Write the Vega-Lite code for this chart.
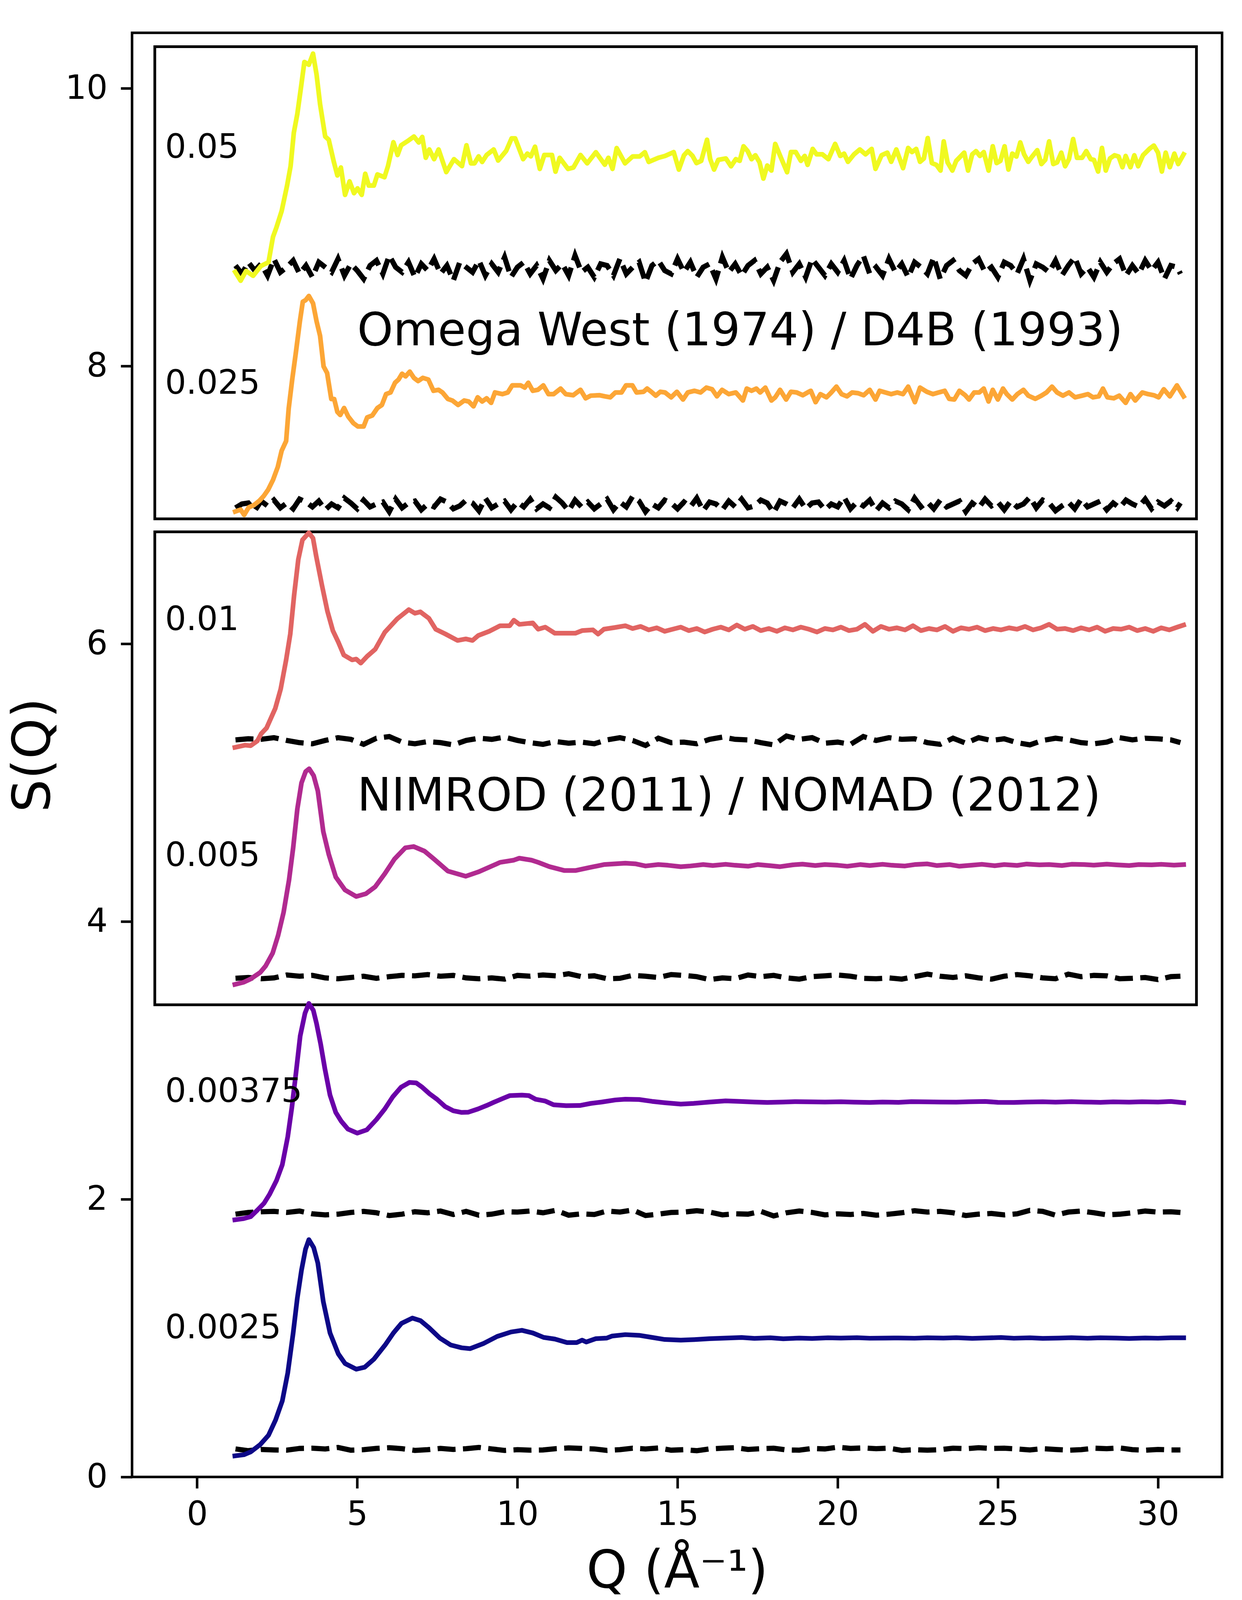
{
  "$schema": "https://vega.github.io/schema/vega-lite/v6.json",
  "description": "S(Q) curves at six concentrations, offset vertically, with dashed noise baselines.",
  "width": 2790,
  "height": 3697,
  "padding": {"left": 338, "top": 84, "right": 51, "bottom": 350},
  "autosize": {"type": "none"},
  "background": "white",
  "config": {
    "view": {"stroke": "black", "strokeWidth": 6.5},
    "font": "DejaVu Sans",
    "axis": {
      "domain": false,
      "grid": false,
      "ticks": true,
      "tickColor": "black",
      "tickWidth": 6.5,
      "tickSize": 29,
      "labelFont": "DejaVu Sans",
      "labelFontSize": 85,
      "labelColor": "black",
      "titleFont": "DejaVu Sans",
      "titleFontSize": 133,
      "titleFontWeight": "normal",
      "titleColor": "black"
    }
  },
  "datasets": {
    "boxes": [
      {"q": -1.32, "q2": 31.2, "v": 6.9, "v2": 10.3},
      {"q": -1.32, "q2": 31.2, "v": 3.4, "v2": 6.806}
    ],
    "labels": [
      {"q": -1.0, "v": 9.5, "t": "0.05"},
      {"q": -1.0, "v": 7.8, "t": "0.025"},
      {"q": -1.0, "v": 6.1, "t": "0.01"},
      {"q": -1.0, "v": 4.4, "t": "0.005"},
      {"q": -1.0, "v": 2.7, "t": "0.00375"},
      {"q": -1.0, "v": 1.0, "t": "0.0025"}
    ],
    "titles": [
      {"q": 5.0, "v": 8.15, "t": "Omega West (1974) / D4B (1993)"},
      {"q": 5.0, "v": 4.8, "t": "NIMROD (2011) / NOMAD (2012)"}
    ],
    "dashTop": [
      {"q":1.2,"a":8.724,"b":6.979},{"q":1.4,"a":8.664,"b":7.007},{"q":1.6,"a":8.748,"b":7.014},{"q":1.8,"a":8.688,"b":6.958},
      {"q":2.0,"a":8.736,"b":7.028},{"q":2.2,"a":8.652,"b":6.993},{"q":2.4,"a":8.772,"b":7.035},{"q":2.6,"a":8.676,"b":6.979},
      {"q":2.8,"a":8.712,"b":7.014},{"q":3.0,"a":8.76,"b":6.972},{"q":3.2,"a":8.664,"b":7.042},{"q":3.4,"a":8.724,"b":7.021},
      {"q":3.6,"a":8.64,"b":6.986},{"q":3.8,"a":8.748,"b":7.028},{"q":4.0,"a":8.712,"b":6.965},{"q":4.2,"a":8.676,"b":7.007},
      {"q":4.4,"a":8.772,"b":6.979},{"q":4.6,"a":8.652,"b":7.049},{"q":4.8,"a":8.736,"b":7.014},{"q":5.0,"a":8.688,"b":6.972},
      {"q":5.2,"a":8.628,"b":7.035},{"q":5.4,"a":8.724,"b":6.986},{"q":5.6,"a":8.76,"b":7.007},{"q":5.8,"a":8.664,"b":7.021},
      {"q":6.0,"a":8.796,"b":6.951},{"q":6.2,"a":8.712,"b":7.042},{"q":6.4,"a":8.676,"b":6.979},{"q":6.6,"a":8.748,"b":7.014},
      {"q":6.8,"a":8.64,"b":7.028},{"q":7.0,"a":8.736,"b":6.965},{"q":7.2,"a":8.688,"b":7.007},{"q":7.4,"a":8.772,"b":6.986},
      {"q":7.6,"a":8.664,"b":7.042},{"q":7.8,"a":8.724,"b":7.021},{"q":8.0,"a":8.616,"b":6.972},{"q":8.2,"a":8.748,"b":6.993},
      {"q":8.4,"a":8.712,"b":7.035},{"q":8.6,"a":8.676,"b":7.014},{"q":8.8,"a":8.76,"b":6.958},{"q":9.0,"a":8.652,"b":7.049},
      {"q":9.2,"a":8.736,"b":6.979},{"q":9.4,"a":8.676,"b":7.007},{"q":9.6,"a":8.784,"b":7.028},{"q":9.8,"a":8.64,"b":6.965},
      {"q":10.0,"a":8.712,"b":7.021},{"q":10.2,"a":8.748,"b":6.986},{"q":10.4,"a":8.664,"b":7.042},{"q":10.6,"a":8.724,"b":6.972},
      {"q":10.8,"a":8.628,"b":7.007},{"q":11.0,"a":8.76,"b":6.979},{"q":11.2,"a":8.688,"b":7.056},{"q":11.4,"a":8.736,"b":7.014},
      {"q":11.6,"a":8.652,"b":6.958},{"q":11.8,"a":8.796,"b":7.035},{"q":12.0,"a":8.676,"b":6.986},{"q":12.2,"a":8.712,"b":7.021},
      {"q":12.4,"a":8.64,"b":6.972},{"q":12.6,"a":8.736,"b":7.007},{"q":12.8,"a":8.724,"b":7.042},{"q":13.0,"a":8.652,"b":6.965},
      {"q":13.2,"a":8.772,"b":7.021},{"q":13.4,"a":8.664,"b":6.986},{"q":13.6,"a":8.712,"b":7.063},{"q":13.8,"a":8.748,"b":7.028},
      {"q":14.0,"a":8.604,"b":6.951},{"q":14.2,"a":8.724,"b":7.007},{"q":14.4,"a":8.76,"b":6.979},{"q":14.6,"a":8.688,"b":7.035},
      {"q":14.8,"a":8.664,"b":7.014},{"q":15.0,"a":8.772,"b":6.972},{"q":15.2,"a":8.676,"b":7.021},{"q":15.4,"a":8.748,"b":6.986},
      {"q":15.6,"a":8.64,"b":7.049},{"q":15.8,"a":8.712,"b":6.958},{"q":16.0,"a":8.736,"b":7.021},{"q":16.2,"a":8.628,"b":7.007},
      {"q":16.4,"a":8.784,"b":6.965},{"q":16.6,"a":8.676,"b":7.028},{"q":16.8,"a":8.736,"b":6.986},{"q":17.0,"a":8.652,"b":7.042},
      {"q":17.2,"a":8.724,"b":6.979},{"q":17.4,"a":8.76,"b":6.993},{"q":17.6,"a":8.664,"b":7.035},{"q":17.8,"a":8.712,"b":7.014},
      {"q":18.0,"a":8.616,"b":6.944},{"q":18.2,"a":8.748,"b":7.028},{"q":18.4,"a":8.808,"b":7.007},{"q":18.6,"a":8.676,"b":6.979},
      {"q":18.8,"a":8.736,"b":7.042},{"q":19.0,"a":8.64,"b":6.972},{"q":19.2,"a":8.772,"b":7.014},{"q":19.4,"a":8.712,"b":7.021},
      {"q":19.6,"a":8.652,"b":6.965},{"q":19.8,"a":8.736,"b":7.007},{"q":20.0,"a":8.676,"b":6.986},{"q":20.2,"a":8.76,"b":7.056},
      {"q":20.4,"a":8.628,"b":6.972},{"q":20.6,"a":8.724,"b":7.021},{"q":20.8,"a":8.796,"b":6.993},{"q":21.0,"a":8.664,"b":7.035},
      {"q":21.2,"a":8.712,"b":6.958},{"q":21.4,"a":8.652,"b":7.014},{"q":21.6,"a":8.772,"b":6.979},{"q":21.8,"a":8.676,"b":7.028},
      {"q":22.0,"a":8.736,"b":7.007},{"q":22.2,"a":8.64,"b":6.965},{"q":22.4,"a":8.748,"b":7.049},{"q":22.6,"a":8.712,"b":6.986},
      {"q":22.8,"a":8.664,"b":7.021},{"q":23.0,"a":8.784,"b":6.972},{"q":23.2,"a":8.628,"b":7.035},{"q":23.4,"a":8.724,"b":6.986},
      {"q":23.6,"a":8.76,"b":7.007},{"q":23.8,"a":8.688,"b":7.028},{"q":24.0,"a":8.652,"b":6.951},{"q":24.2,"a":8.736,"b":7.014},
      {"q":24.4,"a":8.772,"b":6.979},{"q":24.6,"a":8.676,"b":7.042},{"q":24.8,"a":8.712,"b":6.993},{"q":25.0,"a":8.64,"b":7.021},
      {"q":25.2,"a":8.748,"b":6.965},{"q":25.4,"a":8.724,"b":7.028},{"q":25.6,"a":8.664,"b":6.986},{"q":25.8,"a":8.772,"b":7.007},
      {"q":26.0,"a":8.616,"b":7.056},{"q":26.2,"a":8.736,"b":6.979},{"q":26.4,"a":8.712,"b":7.035},{"q":26.6,"a":8.676,"b":7.014},
      {"q":26.8,"a":8.76,"b":6.958},{"q":27.0,"a":8.652,"b":6.993},{"q":27.2,"a":8.724,"b":7.021},{"q":27.4,"a":8.784,"b":6.972},
      {"q":27.6,"a":8.664,"b":7.042},{"q":27.8,"a":8.712,"b":6.986},{"q":28.0,"a":8.64,"b":7.007},{"q":28.2,"a":8.748,"b":7.028},
      {"q":28.4,"a":8.676,"b":6.965},{"q":28.6,"a":8.736,"b":7.014},{"q":28.8,"a":8.772,"b":6.979},{"q":29.0,"a":8.652,"b":7.035},
      {"q":29.2,"a":8.724,"b":7.007},{"q":29.4,"a":8.664,"b":6.986},{"q":29.6,"a":8.76,"b":7.042},{"q":29.8,"a":8.688,"b":6.972},
      {"q":30.0,"a":8.748,"b":7.021},{"q":30.2,"a":8.628,"b":6.993},{"q":30.4,"a":8.724,"b":7.028},{"q":30.6,"a":8.712,"b":6.979},
      {"q":30.7,"a":8.664,"b":7.014}
    ],
    "dashLow": [
      {"q":1.2,"c":5.308,"e":3.591,"f":1.8925,"g":0.2018},{"q":1.6,"c":5.316,"e":3.597,"f":1.905,"g":0.1892},
      {"q":2.0,"c":5.312,"e":3.588,"f":1.91,"g":0.1982},{"q":2.4,"c":5.324,"e":3.594,"f":1.9125,"g":0.1946},
      {"q":2.8,"c":5.304,"e":3.615,"f":1.905,"g":0.1928},{"q":3.2,"c":5.288,"e":3.606,"f":1.915,"g":0.2054},
      {"q":3.6,"c":5.28,"e":3.612,"f":1.895,"g":0.2072},{"q":4.0,"c":5.304,"e":3.594,"f":1.8875,"g":0.2018},
      {"q":4.4,"c":5.324,"e":3.588,"f":1.8925,"g":0.2126},{"q":4.8,"c":5.312,"e":3.597,"f":1.905,"g":0.1928},
      {"q":5.2,"c":5.276,"e":3.606,"f":1.9125,"g":0.1964},{"q":5.6,"c":5.32,"e":3.591,"f":1.9025,"g":0.2054},
      {"q":6.0,"c":5.332,"e":3.603,"f":1.8825,"g":0.2108},{"q":6.4,"c":5.292,"e":3.612,"f":1.8925,"g":0.2036},
      {"q":6.8,"c":5.28,"e":3.609,"f":1.91,"g":0.191},{"q":7.2,"c":5.296,"e":3.618,"f":1.9025,"g":0.1964},
      {"q":7.6,"c":5.288,"e":3.606,"f":1.915,"g":0.2054},{"q":8.0,"c":5.272,"e":3.612,"f":1.89,"g":0.1982},
      {"q":8.4,"c":5.304,"e":3.594,"f":1.9125,"g":0.2036},{"q":8.8,"c":5.32,"e":3.588,"f":1.885,"g":0.2126},
      {"q":9.2,"c":5.312,"e":3.594,"f":1.8925,"g":0.2018},{"q":9.6,"c":5.328,"e":3.585,"f":1.91,"g":0.191},
      {"q":10.0,"c":5.304,"e":3.612,"f":1.9075,"g":0.1964},{"q":10.4,"c":5.288,"e":3.606,"f":1.915,"g":0.1928},
      {"q":10.8,"c":5.276,"e":3.615,"f":1.9025,"g":0.1946},{"q":11.2,"c":5.296,"e":3.609,"f":1.92,"g":0.2036},
      {"q":11.6,"c":5.284,"e":3.624,"f":1.885,"g":0.209},{"q":12.0,"c":5.292,"e":3.603,"f":1.895,"g":0.2054},
      {"q":12.4,"c":5.28,"e":3.609,"f":1.89,"g":0.2018},{"q":12.8,"c":5.308,"e":3.588,"f":1.915,"g":0.191},
      {"q":13.2,"c":5.324,"e":3.591,"f":1.9075,"g":0.1964},{"q":13.6,"c":5.304,"e":3.612,"f":1.9225,"g":0.2072},
      {"q":14.0,"c":5.268,"e":3.606,"f":1.8825,"g":0.2018},{"q":14.4,"c":5.32,"e":3.597,"f":1.8925,"g":0.209},
      {"q":14.8,"c":5.288,"e":3.618,"f":1.905,"g":0.1928},{"q":15.2,"c":5.292,"e":3.612,"f":1.9075,"g":0.1964},
      {"q":15.6,"c":5.28,"e":3.603,"f":1.9175,"g":0.1892},{"q":16.0,"c":5.312,"e":3.582,"f":1.9075,"g":0.2018},
      {"q":16.4,"c":5.328,"e":3.594,"f":1.8875,"g":0.2072},{"q":16.8,"c":5.312,"e":3.588,"f":1.895,"g":0.2108},
      {"q":17.2,"c":5.308,"e":3.615,"f":1.8925,"g":0.1982},{"q":17.6,"c":5.288,"e":3.603,"f":1.9125,"g":0.2036},
      {"q":18.0,"c":5.272,"e":3.612,"f":1.88,"g":0.2072},{"q":18.4,"c":5.336,"e":3.594,"f":1.9025,"g":0.1946},
      {"q":18.8,"c":5.312,"e":3.585,"f":1.915,"g":0.1928},{"q":19.2,"c":5.324,"e":3.603,"f":1.905,"g":0.2054},
      {"q":19.6,"c":5.284,"e":3.609,"f":1.8875,"g":0.2018},{"q":20.0,"c":5.292,"e":3.615,"f":1.895,"g":0.2144},
      {"q":20.4,"c":5.276,"e":3.606,"f":1.89,"g":0.2054},{"q":20.8,"c":5.332,"e":3.591,"f":1.8975,"g":0.209},
      {"q":21.2,"c":5.304,"e":3.588,"f":1.885,"g":0.2036},{"q":21.6,"c":5.324,"e":3.594,"f":1.8925,"g":0.2072},
      {"q":22.0,"c":5.312,"e":3.585,"f":1.9025,"g":0.191},{"q":22.4,"c":5.316,"e":3.603,"f":1.9175,"g":0.1964},
      {"q":22.8,"c":5.288,"e":3.621,"f":1.9075,"g":0.1928},{"q":23.2,"c":5.276,"e":3.606,"f":1.9125,"g":0.1964},
      {"q":23.6,"c":5.32,"e":3.597,"f":1.9025,"g":0.2072},{"q":24.0,"c":5.284,"e":3.609,"f":1.8825,"g":0.2036},
      {"q":24.4,"c":5.324,"e":3.594,"f":1.8925,"g":0.2108},{"q":24.8,"c":5.304,"e":3.585,"f":1.8975,"g":0.2054},
      {"q":25.2,"c":5.316,"e":3.606,"f":1.8875,"g":0.2072},{"q":25.6,"c":5.288,"e":3.618,"f":1.895,"g":0.2018},
      {"q":26.0,"c":5.272,"e":3.609,"f":1.92,"g":0.1946},{"q":26.4,"c":5.304,"e":3.594,"f":1.9125,"g":0.2036},
      {"q":26.8,"c":5.32,"e":3.588,"f":1.885,"g":0.1982},{"q":27.2,"c":5.308,"e":3.621,"f":1.9075,"g":0.1928},
      {"q":27.6,"c":5.288,"e":3.603,"f":1.915,"g":0.1964},{"q":28.0,"c":5.28,"e":3.612,"f":1.9025,"g":0.2072},
      {"q":28.4,"c":5.292,"e":3.609,"f":1.8875,"g":0.2036},{"q":28.8,"c":5.324,"e":3.588,"f":1.8925,"g":0.209},
      {"q":29.2,"c":5.308,"e":3.591,"f":1.9025,"g":0.1964},{"q":29.6,"c":5.32,"e":3.597,"f":1.915,"g":0.1928},
      {"q":30.0,"c":5.316,"e":3.582,"f":1.9075,"g":0.1982},{"q":30.4,"c":5.308,"e":3.603,"f":1.91,"g":0.1946},
      {"q":30.7,"c":5.288,"e":3.606,"f":1.905,"g":0.1946}
    ],
    "curves": [
      {"s":"0.0025","q":1.18,"v":0.152},{"s":"0.0025","q":1.46,"v":0.16},{"s":"0.0025","q":1.67,"v":0.18},{"s":"0.0025","q":1.97,"v":0.233},
      {"s":"0.0025","q":2.23,"v":0.3},{"s":"0.0025","q":2.45,"v":0.41},{"s":"0.0025","q":2.66,"v":0.547},{"s":"0.0025","q":2.83,"v":0.748},
      {"s":"0.0025","q":3.0,"v":1.037},{"s":"0.0025","q":3.13,"v":1.289},{"s":"0.0025","q":3.26,"v":1.489},{"s":"0.0025","q":3.385,"v":1.64},
      {"s":"0.0025","q":3.49,"v":1.709},{"s":"0.0025","q":3.64,"v":1.652},{"s":"0.0025","q":3.77,"v":1.54},{"s":"0.0025","q":3.94,"v":1.263},
      {"s":"0.0025","q":4.15,"v":1.037},{"s":"0.0025","q":4.41,"v":0.886},{"s":"0.0025","q":4.62,"v":0.817},{"s":"0.0025","q":4.97,"v":0.776},
      {"s":"0.0025","q":5.23,"v":0.79},{"s":"0.0025","q":5.52,"v":0.848},{"s":"0.0025","q":5.87,"v":0.95},{"s":"0.0025","q":6.13,"v":1.037},
      {"s":"0.0025","q":6.38,"v":1.106},{"s":"0.0025","q":6.72,"v":1.144},{"s":"0.0025","q":6.98,"v":1.125},{"s":"0.0025","q":7.24,"v":1.075},
      {"s":"0.0025","q":7.58,"v":1.0},{"s":"0.0025","q":7.92,"v":0.95},{"s":"0.0025","q":8.26,"v":0.93},{"s":"0.0025","q":8.52,"v":0.924},
      {"s":"0.0025","q":8.95,"v":0.962},{"s":"0.0025","q":9.37,"v":1.012},{"s":"0.0025","q":9.8,"v":1.044},{"s":"0.0025","q":10.14,"v":1.056},
      {"s":"0.0025","q":10.48,"v":1.037},{"s":"0.0025","q":10.82,"v":1.005},{"s":"0.0025","q":11.17,"v":0.993},{"s":"0.0025","q":11.55,"v":0.968},
      {"s":"0.0025","q":11.85,"v":0.968},{"s":"0.0025","q":12.02,"v":0.985},{"s":"0.0025","q":12.15,"v":0.972},{"s":"0.0025","q":12.45,"v":0.996},
      {"s":"0.0025","q":12.79,"v":1.0},{"s":"0.0025","q":12.96,"v":1.015},{"s":"0.0025","q":13.37,"v":1.025},{"s":"0.0025","q":13.8,"v":1.02},
      {"s":"0.0025","q":14.2,"v":1.005},{"s":"0.0025","q":14.6,"v":0.99},{"s":"0.0025","q":15.1,"v":0.985},{"s":"0.0025","q":15.6,"v":0.99},
      {"s":"0.0025","q":16.0,"v":0.996},{"s":"0.0025","q":16.5,"v":1.0},{"s":"0.0025","q":17.0,"v":1.004},{"s":"0.0025","q":17.4,"v":0.998},
      {"s":"0.0025","q":17.9,"v":1.002},{"s":"0.0025","q":18.3,"v":0.995},{"s":"0.0025","q":18.8,"v":1.0},{"s":"0.0025","q":19.2,"v":0.997},
      {"s":"0.0025","q":19.7,"v":1.002},{"s":"0.0025","q":20.1,"v":1.0},{"s":"0.0025","q":20.6,"v":1.003},{"s":"0.0025","q":21.0,"v":0.999},
      {"s":"0.0025","q":21.5,"v":1.0},{"s":"0.0025","q":21.9,"v":1.001},{"s":"0.0025","q":22.4,"v":0.999},{"s":"0.0025","q":22.8,"v":1.002},
      {"s":"0.0025","q":23.3,"v":1.0},{"s":"0.0025","q":23.7,"v":1.003},{"s":"0.0025","q":24.2,"v":0.998},{"s":"0.0025","q":24.6,"v":1.001},
      {"s":"0.0025","q":25.1,"v":1.004},{"s":"0.0025","q":25.5,"v":0.999},{"s":"0.0025","q":26.0,"v":1.002},{"s":"0.0025","q":26.4,"v":0.998},
      {"s":"0.0025","q":26.9,"v":1.0},{"s":"0.0025","q":27.3,"v":1.003},{"s":"0.0025","q":27.8,"v":0.999},{"s":"0.0025","q":28.2,"v":1.002},
      {"s":"0.0025","q":28.7,"v":1.0},{"s":"0.0025","q":29.1,"v":0.997},{"s":"0.0025","q":29.6,"v":1.001},{"s":"0.0025","q":30.0,"v":0.999},
      {"s":"0.0025","q":30.4,"v":1.002},{"s":"0.0025","q":30.8,"v":1.002},

      {"s":"0.00375","q":1.18,"v":1.852},{"s":"0.00375","q":1.46,"v":1.861},{"s":"0.00375","q":1.67,"v":1.874},{"s":"0.00375","q":1.88,"v":1.921},
      {"s":"0.00375","q":2.09,"v":1.971},{"s":"0.00375","q":2.26,"v":2.034},{"s":"0.00375","q":2.48,"v":2.135},{"s":"0.00375","q":2.66,"v":2.248},
      {"s":"0.00375","q":2.83,"v":2.449},{"s":"0.00375","q":2.96,"v":2.662},{"s":"0.00375","q":3.09,"v":2.914},{"s":"0.00375","q":3.22,"v":3.177},
      {"s":"0.00375","q":3.37,"v":3.34},{"s":"0.00375","q":3.49,"v":3.41},{"s":"0.00375","q":3.63,"v":3.36},{"s":"0.00375","q":3.73,"v":3.265},
      {"s":"0.00375","q":3.86,"v":3.115},{"s":"0.00375","q":3.99,"v":2.94},{"s":"0.00375","q":4.15,"v":2.75},{"s":"0.00375","q":4.33,"v":2.625},
      {"s":"0.00375","q":4.5,"v":2.562},{"s":"0.00375","q":4.71,"v":2.505},{"s":"0.00375","q":5.0,"v":2.476},{"s":"0.00375","q":5.3,"v":2.5},
      {"s":"0.00375","q":5.6,"v":2.574},{"s":"0.00375","q":5.86,"v":2.65},{"s":"0.00375","q":6.11,"v":2.738},{"s":"0.00375","q":6.37,"v":2.807},
      {"s":"0.00375","q":6.63,"v":2.841},{"s":"0.00375","q":6.84,"v":2.838},{"s":"0.00375","q":7.01,"v":2.81},{"s":"0.00375","q":7.27,"v":2.757},
      {"s":"0.00375","q":7.49,"v":2.72},{"s":"0.00375","q":7.74,"v":2.668},{"s":"0.00375","q":8.0,"v":2.637},{"s":"0.00375","q":8.26,"v":2.625},
      {"s":"0.00375","q":8.47,"v":2.627},{"s":"0.00375","q":8.77,"v":2.65},{"s":"0.00375","q":9.03,"v":2.674},{"s":"0.00375","q":9.28,"v":2.7},
      {"s":"0.00375","q":9.54,"v":2.725},{"s":"0.00375","q":9.76,"v":2.746},{"s":"0.00375","q":10.14,"v":2.75},{"s":"0.00375","q":10.36,"v":2.746},
      {"s":"0.00375","q":10.57,"v":2.72},{"s":"0.00375","q":10.87,"v":2.707},{"s":"0.00375","q":11.13,"v":2.68},{"s":"0.00375","q":11.52,"v":2.674},
      {"s":"0.00375","q":11.95,"v":2.675},{"s":"0.00375","q":12.29,"v":2.69},{"s":"0.00375","q":12.63,"v":2.7},{"s":"0.00375","q":13.06,"v":2.715},
      {"s":"0.00375","q":13.37,"v":2.72},{"s":"0.00375","q":13.8,"v":2.718},{"s":"0.00375","q":14.2,"v":2.705},{"s":"0.00375","q":14.6,"v":2.695},
      {"s":"0.00375","q":15.1,"v":2.685},{"s":"0.00375","q":15.5,"v":2.69},{"s":"0.00375","q":16.0,"v":2.7},{"s":"0.00375","q":16.5,"v":2.708},
      {"s":"0.00375","q":16.9,"v":2.705},{"s":"0.00375","q":17.4,"v":2.7},{"s":"0.00375","q":17.8,"v":2.697},{"s":"0.00375","q":18.3,"v":2.7},
      {"s":"0.00375","q":18.7,"v":2.703},{"s":"0.00375","q":19.2,"v":2.701},{"s":"0.00375","q":19.6,"v":2.7},{"s":"0.00375","q":20.1,"v":2.702},
      {"s":"0.00375","q":20.5,"v":2.699},{"s":"0.00375","q":21.0,"v":2.697},{"s":"0.00375","q":21.4,"v":2.7},{"s":"0.00375","q":21.9,"v":2.698},
      {"s":"0.00375","q":22.3,"v":2.703},{"s":"0.00375","q":22.8,"v":2.701},{"s":"0.00375","q":23.2,"v":2.7},{"s":"0.00375","q":23.7,"v":2.699},
      {"s":"0.00375","q":24.1,"v":2.702},{"s":"0.00375","q":24.6,"v":2.704},{"s":"0.00375","q":25.0,"v":2.698},{"s":"0.00375","q":25.5,"v":2.697},
      {"s":"0.00375","q":25.9,"v":2.7},{"s":"0.00375","q":26.4,"v":2.702},{"s":"0.00375","q":26.8,"v":2.699},{"s":"0.00375","q":27.3,"v":2.703},
      {"s":"0.00375","q":27.7,"v":2.7},{"s":"0.00375","q":28.2,"v":2.698},{"s":"0.00375","q":28.6,"v":2.701},{"s":"0.00375","q":29.1,"v":2.699},
      {"s":"0.00375","q":29.5,"v":2.702},{"s":"0.00375","q":30.0,"v":2.7},{"s":"0.00375","q":30.4,"v":2.704},{"s":"0.00375","q":30.8,"v":2.695},

      {"s":"0.005","q":1.18,"v":3.547},{"s":"0.005","q":1.46,"v":3.563},{"s":"0.005","q":1.67,"v":3.586},{"s":"0.005","q":1.97,"v":3.633},
      {"s":"0.005","q":2.14,"v":3.68},{"s":"0.005","q":2.36,"v":3.773},{"s":"0.005","q":2.53,"v":3.9},{"s":"0.005","q":2.7,"v":4.065},
      {"s":"0.005","q":2.87,"v":4.298},{"s":"0.005","q":3.0,"v":4.531},{"s":"0.005","q":3.13,"v":4.81},{"s":"0.005","q":3.26,"v":4.998},
      {"s":"0.005","q":3.39,"v":5.08},{"s":"0.005","q":3.5,"v":5.1},{"s":"0.005","q":3.64,"v":5.05},{"s":"0.005","q":3.77,"v":4.94},
      {"s":"0.005","q":3.94,"v":4.648},{"s":"0.005","q":4.11,"v":4.485},{"s":"0.005","q":4.33,"v":4.32},{"s":"0.005","q":4.62,"v":4.227},
      {"s":"0.005","q":4.97,"v":4.18},{"s":"0.005","q":5.27,"v":4.2},{"s":"0.005","q":5.56,"v":4.25},{"s":"0.005","q":5.86,"v":4.344},
      {"s":"0.005","q":6.16,"v":4.449},{"s":"0.005","q":6.5,"v":4.531},{"s":"0.005","q":6.76,"v":4.54},{"s":"0.005","q":7.1,"v":4.507},
      {"s":"0.005","q":7.4,"v":4.449},{"s":"0.005","q":7.83,"v":4.363},{"s":"0.005","q":8.39,"v":4.326},{"s":"0.005","q":8.78,"v":4.357},
      {"s":"0.005","q":9.12,"v":4.391},{"s":"0.005","q":9.46,"v":4.426},{"s":"0.005","q":9.89,"v":4.442},{"s":"0.005","q":10.06,"v":4.456},
      {"s":"0.005","q":10.44,"v":4.442},{"s":"0.005","q":10.65,"v":4.426},{"s":"0.005","q":11.0,"v":4.395},{"s":"0.005","q":11.47,"v":4.367},
      {"s":"0.005","q":11.81,"v":4.367},{"s":"0.005","q":12.28,"v":4.39},{"s":"0.005","q":12.7,"v":4.41},{"s":"0.005","q":13.37,"v":4.42},
      {"s":"0.005","q":13.7,"v":4.415},{"s":"0.005","q":14.0,"v":4.4},{"s":"0.005","q":14.4,"v":4.41},{"s":"0.005","q":14.7,"v":4.405},
      {"s":"0.005","q":15.1,"v":4.395},{"s":"0.005","q":15.4,"v":4.4},{"s":"0.005","q":15.8,"v":4.41},{"s":"0.005","q":16.1,"v":4.403},
      {"s":"0.005","q":16.5,"v":4.412},{"s":"0.005","q":16.8,"v":4.405},{"s":"0.005","q":17.2,"v":4.398},{"s":"0.005","q":17.5,"v":4.41},
      {"s":"0.005","q":17.9,"v":4.402},{"s":"0.005","q":18.2,"v":4.395},{"s":"0.005","q":18.6,"v":4.408},{"s":"0.005","q":18.9,"v":4.413},
      {"s":"0.005","q":19.3,"v":4.403},{"s":"0.005","q":19.6,"v":4.41},{"s":"0.005","q":20.0,"v":4.405},{"s":"0.005","q":20.3,"v":4.398},
      {"s":"0.005","q":20.7,"v":4.41},{"s":"0.005","q":21.0,"v":4.403},{"s":"0.005","q":21.4,"v":4.412},{"s":"0.005","q":21.7,"v":4.405},
      {"s":"0.005","q":22.1,"v":4.4},{"s":"0.005","q":22.4,"v":4.41},{"s":"0.005","q":22.8,"v":4.415},{"s":"0.005","q":23.1,"v":4.403},
      {"s":"0.005","q":23.5,"v":4.41},{"s":"0.005","q":23.8,"v":4.398},{"s":"0.005","q":24.2,"v":4.406},{"s":"0.005","q":24.5,"v":4.412},
      {"s":"0.005","q":24.9,"v":4.402},{"s":"0.005","q":25.2,"v":4.41},{"s":"0.005","q":25.6,"v":4.404},{"s":"0.005","q":25.9,"v":4.414},
      {"s":"0.005","q":26.3,"v":4.408},{"s":"0.005","q":26.6,"v":4.41},{"s":"0.005","q":27.0,"v":4.403},{"s":"0.005","q":27.3,"v":4.412},
      {"s":"0.005","q":27.7,"v":4.41},{"s":"0.005","q":28.0,"v":4.406},{"s":"0.005","q":28.4,"v":4.413},{"s":"0.005","q":28.7,"v":4.408},
      {"s":"0.005","q":29.1,"v":4.403},{"s":"0.005","q":29.4,"v":4.41},{"s":"0.005","q":29.8,"v":4.408},{"s":"0.005","q":30.1,"v":4.412},
      {"s":"0.005","q":30.5,"v":4.406},{"s":"0.005","q":30.8,"v":4.41},

      {"s":"0.01","q":1.18,"v":5.254},{"s":"0.01","q":1.5,"v":5.27},{"s":"0.01","q":1.67,"v":5.266},{"s":"0.01","q":1.88,"v":5.3},
      {"s":"0.01","q":2.0,"v":5.352},{"s":"0.01","q":2.17,"v":5.394},{"s":"0.01","q":2.44,"v":5.534},{"s":"0.01","q":2.61,"v":5.674},
      {"s":"0.01","q":2.78,"v":5.884},{"s":"0.01","q":2.91,"v":6.071},{"s":"0.01","q":3.03,"v":6.351},{"s":"0.01","q":3.16,"v":6.607},
      {"s":"0.01","q":3.29,"v":6.748},{"s":"0.01","q":3.49,"v":6.8},{"s":"0.01","q":3.62,"v":6.76},{"s":"0.01","q":3.72,"v":6.63},
      {"s":"0.01","q":3.9,"v":6.42},{"s":"0.01","q":4.07,"v":6.234},{"s":"0.01","q":4.24,"v":6.094},{"s":"0.01","q":4.41,"v":6.012},
      {"s":"0.01","q":4.58,"v":5.919},{"s":"0.01","q":4.84,"v":5.884},{"s":"0.01","q":4.97,"v":5.89},{"s":"0.01","q":5.11,"v":5.861},
      {"s":"0.01","q":5.31,"v":5.91},{"s":"0.01","q":5.56,"v":5.96},{"s":"0.01","q":5.86,"v":6.083},{"s":"0.01","q":6.25,"v":6.18},
      {"s":"0.01","q":6.61,"v":6.246},{"s":"0.01","q":6.8,"v":6.22},{"s":"0.01","q":6.97,"v":6.23},{"s":"0.01","q":7.24,"v":6.183},
      {"s":"0.01","q":7.45,"v":6.105},{"s":"0.01","q":7.75,"v":6.071},{"s":"0.01","q":8.13,"v":6.024},{"s":"0.01","q":8.39,"v":6.035},
      {"s":"0.01","q":8.6,"v":6.024},{"s":"0.01","q":8.78,"v":6.06},{"s":"0.01","q":9.12,"v":6.09},{"s":"0.01","q":9.46,"v":6.13},
      {"s":"0.01","q":9.76,"v":6.13},{"s":"0.01","q":9.89,"v":6.17},{"s":"0.01","q":10.06,"v":6.14},{"s":"0.01","q":10.48,"v":6.15},
      {"s":"0.01","q":10.65,"v":6.105},{"s":"0.01","q":10.87,"v":6.12},{"s":"0.01","q":11.17,"v":6.076},{"s":"0.01","q":11.42,"v":6.076},
      {"s":"0.01","q":11.81,"v":6.076},{"s":"0.01","q":12.02,"v":6.095},{"s":"0.01","q":12.36,"v":6.1},{"s":"0.01","q":12.52,"v":6.07},
      {"s":"0.01","q":12.7,"v":6.105},{"s":"0.01","q":13.04,"v":6.117},{"s":"0.01","q":13.37,"v":6.13},{"s":"0.01","q":13.6,"v":6.11},
      {"s":"0.01","q":13.85,"v":6.125},{"s":"0.01","q":14.1,"v":6.1},{"s":"0.01","q":14.35,"v":6.115},{"s":"0.01","q":14.6,"v":6.09},
      {"s":"0.01","q":14.85,"v":6.105},{"s":"0.01","q":15.1,"v":6.12},{"s":"0.01","q":15.35,"v":6.095},{"s":"0.01","q":15.6,"v":6.11},
      {"s":"0.01","q":15.85,"v":6.085},{"s":"0.01","q":16.1,"v":6.105},{"s":"0.01","q":16.35,"v":6.12},{"s":"0.01","q":16.6,"v":6.1},
      {"s":"0.01","q":16.85,"v":6.135},{"s":"0.01","q":17.1,"v":6.105},{"s":"0.01","q":17.35,"v":6.125},{"s":"0.01","q":17.6,"v":6.095},
      {"s":"0.01","q":17.85,"v":6.11},{"s":"0.01","q":18.1,"v":6.09},{"s":"0.01","q":18.35,"v":6.115},{"s":"0.01","q":18.6,"v":6.1},
      {"s":"0.01","q":18.85,"v":6.12},{"s":"0.01","q":19.1,"v":6.105},{"s":"0.01","q":19.35,"v":6.085},{"s":"0.01","q":19.6,"v":6.11},
      {"s":"0.01","q":19.85,"v":6.1},{"s":"0.01","q":20.1,"v":6.12},{"s":"0.01","q":20.35,"v":6.095},{"s":"0.01","q":20.6,"v":6.105},
      {"s":"0.01","q":20.85,"v":6.14},{"s":"0.01","q":21.1,"v":6.09},{"s":"0.01","q":21.35,"v":6.125},{"s":"0.01","q":21.6,"v":6.105},
      {"s":"0.01","q":21.85,"v":6.115},{"s":"0.01","q":22.1,"v":6.1},{"s":"0.01","q":22.35,"v":6.13},{"s":"0.01","q":22.6,"v":6.095},
      {"s":"0.01","q":22.85,"v":6.11},{"s":"0.01","q":23.1,"v":6.1},{"s":"0.01","q":23.35,"v":6.125},{"s":"0.01","q":23.6,"v":6.09},
      {"s":"0.01","q":23.85,"v":6.115},{"s":"0.01","q":24.1,"v":6.105},{"s":"0.01","q":24.35,"v":6.12},{"s":"0.01","q":24.6,"v":6.095},
      {"s":"0.01","q":24.85,"v":6.11},{"s":"0.01","q":25.1,"v":6.1},{"s":"0.01","q":25.35,"v":6.115},{"s":"0.01","q":25.6,"v":6.105},
      {"s":"0.01","q":25.85,"v":6.125},{"s":"0.01","q":26.1,"v":6.1},{"s":"0.01","q":26.35,"v":6.115},{"s":"0.01","q":26.6,"v":6.14},
      {"s":"0.01","q":26.85,"v":6.105},{"s":"0.01","q":27.1,"v":6.11},{"s":"0.01","q":27.35,"v":6.095},{"s":"0.01","q":27.6,"v":6.115},
      {"s":"0.01","q":27.85,"v":6.1},{"s":"0.01","q":28.1,"v":6.12},{"s":"0.01","q":28.35,"v":6.09},{"s":"0.01","q":28.6,"v":6.11},
      {"s":"0.01","q":28.85,"v":6.105},{"s":"0.01","q":29.1,"v":6.12},{"s":"0.01","q":29.35,"v":6.095},{"s":"0.01","q":29.6,"v":6.11},
      {"s":"0.01","q":29.85,"v":6.09},{"s":"0.01","q":30.1,"v":6.115},{"s":"0.01","q":30.35,"v":6.1},{"s":"0.01","q":30.6,"v":6.12},
      {"s":"0.01","q":30.8,"v":6.135},

      {"s":"0.025","q":1.19,"v":6.952},{"s":"0.025","q":1.36,"v":6.966},{"s":"0.025","q":1.47,"v":6.928},{"s":"0.025","q":1.61,"v":6.982},
      {"s":"0.025","q":1.77,"v":6.998},{"s":"0.025","q":1.94,"v":7.029},{"s":"0.025","q":2.08,"v":7.064},{"s":"0.025","q":2.22,"v":7.11},
      {"s":"0.025","q":2.37,"v":7.18},{"s":"0.025","q":2.52,"v":7.274},{"s":"0.025","q":2.64,"v":7.39},{"s":"0.025","q":2.78,"v":7.46},
      {"s":"0.025","q":2.86,"v":7.694},{"s":"0.025","q":2.97,"v":7.903},{"s":"0.025","q":3.08,"v":8.09},{"s":"0.025","q":3.21,"v":8.323},
      {"s":"0.025","q":3.3,"v":8.463},{"s":"0.025","q":3.39,"v":8.475},{"s":"0.025","q":3.49,"v":8.505},{"s":"0.025","q":3.62,"v":8.452},
      {"s":"0.025","q":3.73,"v":8.323},{"s":"0.025","q":3.84,"v":8.218},{"s":"0.025","q":3.95,"v":7.997},{"s":"0.025","q":4.06,"v":7.95},
      {"s":"0.025","q":4.19,"v":7.763},{"s":"0.025","q":4.28,"v":7.763},{"s":"0.025","q":4.38,"v":7.67},{"s":"0.025","q":4.47,"v":7.648},
      {"s":"0.025","q":4.59,"v":7.698},{"s":"0.025","q":4.72,"v":7.636},{"s":"0.025","q":4.88,"v":7.589},{"s":"0.025","q":5.02,"v":7.565},
      {"s":"0.025","q":5.2,"v":7.565},{"s":"0.025","q":5.31,"v":7.63},{"s":"0.025","q":5.47,"v":7.644},{"s":"0.025","q":5.63,"v":7.698},
      {"s":"0.025","q":5.77,"v":7.72},{"s":"0.025","q":5.9,"v":7.798},{"s":"0.025","q":6.04,"v":7.81},{"s":"0.025","q":6.18,"v":7.88},
      {"s":"0.025","q":6.29,"v":7.903},{"s":"0.025","q":6.4,"v":7.945},{"s":"0.025","q":6.51,"v":7.926},{"s":"0.025","q":6.64,"v":7.96},
      {"s":"0.025","q":6.77,"v":7.915},{"s":"0.025","q":6.9,"v":7.892},{"s":"0.025","q":7.05,"v":7.915},{"s":"0.025","q":7.22,"v":7.903},
      {"s":"0.025","q":7.38,"v":7.822},{"s":"0.025","q":7.54,"v":7.829},{"s":"0.025","q":7.66,"v":7.81},{"s":"0.025","q":7.83,"v":7.763},
      {"s":"0.025","q":7.97,"v":7.752},{"s":"0.025","q":8.15,"v":7.72},{"s":"0.025","q":8.34,"v":7.752},{"s":"0.025","q":8.48,"v":7.745},
      {"s":"0.025","q":8.63,"v":7.71},{"s":"0.025","q":8.76,"v":7.775},{"s":"0.025","q":8.9,"v":7.745},{"s":"0.025","q":9.04,"v":7.768},
      {"s":"0.025","q":9.18,"v":7.735},{"s":"0.025","q":9.3,"v":7.81},{"s":"0.025","q":9.53,"v":7.798},{"s":"0.025","q":9.7,"v":7.81},
      {"s":"0.025","q":9.84,"v":7.861},{"s":"0.025","q":10.1,"v":7.861},{"s":"0.025","q":10.23,"v":7.845},{"s":"0.025","q":10.34,"v":7.88},
      {"s":"0.025","q":10.48,"v":7.822},{"s":"0.025","q":10.64,"v":7.829},{"s":"0.025","q":10.81,"v":7.861},{"s":"0.025","q":10.97,"v":7.798},
      {"s":"0.025","q":11.13,"v":7.798},{"s":"0.025","q":11.35,"v":7.838},{"s":"0.025","q":11.51,"v":7.798},{"s":"0.025","q":11.74,"v":7.79},
      {"s":"0.025","q":11.97,"v":7.829},{"s":"0.025","q":12.13,"v":7.768},{"s":"0.025","q":12.29,"v":7.787},{"s":"0.025","q":12.57,"v":7.79},
      {"s":"0.025","q":12.73,"v":7.782},{"s":"0.025","q":12.9,"v":7.775},{"s":"0.025","q":13.06,"v":7.81},{"s":"0.025","q":13.25,"v":7.81},
      {"s":"0.025","q":13.39,"v":7.861},{"s":"0.025","q":13.59,"v":7.861},{"s":"0.025","q":13.72,"v":7.81},{"s":"0.025","q":13.94,"v":7.815},
      {"s":"0.025","q":14.05,"v":7.838},{"s":"0.025","q":14.18,"v":7.815},{"s":"0.025","q":14.32,"v":7.787},{"s":"0.025","q":14.46,"v":7.815},
      {"s":"0.025","q":14.61,"v":7.81},{"s":"0.025","q":14.8,"v":7.775},{"s":"0.025","q":14.98,"v":7.815},{"s":"0.025","q":15.17,"v":7.759},
      {"s":"0.025","q":15.32,"v":7.81},{"s":"0.025","q":15.53,"v":7.822},{"s":"0.025","q":15.72,"v":7.81},{"s":"0.025","q":15.9,"v":7.845},
      {"s":"0.025","q":16.08,"v":7.833},{"s":"0.025","q":16.23,"v":7.782},{"s":"0.025","q":16.39,"v":7.829},{"s":"0.025","q":16.6,"v":7.798},
      {"s":"0.025","q":16.82,"v":7.81},{"s":"0.025","q":17.04,"v":7.752},{"s":"0.025","q":17.16,"v":7.838},{"s":"0.025","q":17.31,"v":7.822},
      {"s":"0.025","q":17.46,"v":7.838},{"s":"0.025","q":17.58,"v":7.81},{"s":"0.025","q":17.74,"v":7.845},{"s":"0.025","q":17.93,"v":7.752},
      {"s":"0.025","q":18.05,"v":7.775},{"s":"0.025","q":18.2,"v":7.829},{"s":"0.025","q":18.39,"v":7.759},{"s":"0.025","q":18.54,"v":7.815},
      {"s":"0.025","q":18.72,"v":7.81},{"s":"0.025","q":18.91,"v":7.79},{"s":"0.025","q":19.06,"v":7.81},{"s":"0.025","q":19.16,"v":7.822},
      {"s":"0.025","q":19.31,"v":7.74},{"s":"0.025","q":19.46,"v":7.798},{"s":"0.025","q":19.65,"v":7.775},{"s":"0.025","q":19.8,"v":7.81},
      {"s":"0.025","q":19.96,"v":7.852},{"s":"0.025","q":20.12,"v":7.798},{"s":"0.025","q":20.29,"v":7.782},{"s":"0.025","q":20.45,"v":7.81},
      {"s":"0.025","q":20.63,"v":7.805},{"s":"0.025","q":20.81,"v":7.79},{"s":"0.025","q":21.0,"v":7.829},{"s":"0.025","q":21.18,"v":7.759},
      {"s":"0.025","q":21.31,"v":7.822},{"s":"0.025","q":21.49,"v":7.81},{"s":"0.025","q":21.67,"v":7.798},{"s":"0.025","q":21.86,"v":7.81},
      {"s":"0.025","q":22.04,"v":7.798},{"s":"0.025","q":22.2,"v":7.852},{"s":"0.025","q":22.41,"v":7.74},{"s":"0.025","q":22.57,"v":7.845},
      {"s":"0.025","q":22.78,"v":7.815},{"s":"0.025","q":22.97,"v":7.798},{"s":"0.025","q":23.15,"v":7.81},{"s":"0.025","q":23.34,"v":7.822},
      {"s":"0.025","q":23.48,"v":7.764},{"s":"0.025","q":23.64,"v":7.759},{"s":"0.025","q":23.8,"v":7.822},{"s":"0.025","q":23.98,"v":7.79},
      {"s":"0.025","q":24.1,"v":7.759},{"s":"0.025","q":24.26,"v":7.81},{"s":"0.025","q":24.42,"v":7.81},{"s":"0.025","q":24.56,"v":7.838},
      {"s":"0.025","q":24.71,"v":7.745},{"s":"0.025","q":24.84,"v":7.829},{"s":"0.025","q":25.0,"v":7.759},{"s":"0.025","q":25.16,"v":7.838},
      {"s":"0.025","q":25.28,"v":7.798},{"s":"0.025","q":25.45,"v":7.759},{"s":"0.025","q":25.61,"v":7.798},{"s":"0.025","q":25.8,"v":7.829},
      {"s":"0.025","q":25.95,"v":7.787},{"s":"0.025","q":26.17,"v":7.764},{"s":"0.025","q":26.36,"v":7.787},{"s":"0.025","q":26.52,"v":7.81},
      {"s":"0.025","q":26.69,"v":7.852},{"s":"0.025","q":26.85,"v":7.81},{"s":"0.025","q":27.03,"v":7.787},{"s":"0.025","q":27.22,"v":7.81},
      {"s":"0.025","q":27.41,"v":7.775},{"s":"0.025","q":27.63,"v":7.787},{"s":"0.025","q":27.81,"v":7.798},{"s":"0.025","q":27.97,"v":7.775},
      {"s":"0.025","q":28.15,"v":7.782},{"s":"0.025","q":28.28,"v":7.838},{"s":"0.025","q":28.42,"v":7.775},{"s":"0.025","q":28.62,"v":7.768},
      {"s":"0.025","q":28.79,"v":7.787},{"s":"0.025","q":28.99,"v":7.735},{"s":"0.025","q":29.14,"v":7.798},{"s":"0.025","q":29.29,"v":7.752},
      {"s":"0.025","q":29.51,"v":7.81},{"s":"0.025","q":29.69,"v":7.798},{"s":"0.025","q":29.87,"v":7.79},{"s":"0.025","q":30.02,"v":7.775},
      {"s":"0.025","q":30.18,"v":7.833},{"s":"0.025","q":30.37,"v":7.782},{"s":"0.025","q":30.59,"v":7.861},{"s":"0.025","q":30.8,"v":7.782},

      {"s":"0.05","q":1.19,"v":8.678},{"s":"0.05","q":1.36,"v":8.615},{"s":"0.05","q":1.53,"v":8.685},{"s":"0.05","q":1.75,"v":8.65},
      {"s":"0.05","q":1.99,"v":8.72},{"s":"0.05","q":2.23,"v":8.748},{"s":"0.05","q":2.37,"v":8.93},{"s":"0.05","q":2.48,"v":9.0},
      {"s":"0.05","q":2.64,"v":9.116},{"s":"0.05","q":2.81,"v":9.3},{"s":"0.05","q":2.92,"v":9.44},{"s":"0.05","q":3.02,"v":9.68},
      {"s":"0.05","q":3.13,"v":9.816},{"s":"0.05","q":3.24,"v":10.0},{"s":"0.05","q":3.35,"v":10.19},{"s":"0.05","q":3.49,"v":10.17},
      {"s":"0.05","q":3.62,"v":10.25},{"s":"0.05","q":3.73,"v":10.1},{"s":"0.05","q":3.84,"v":9.886},{"s":"0.05","q":4.0,"v":9.653},
      {"s":"0.05","q":4.11,"v":9.63},{"s":"0.05","q":4.27,"v":9.47},{"s":"0.05","q":4.38,"v":9.373},{"s":"0.05","q":4.49,"v":9.43},
      {"s":"0.05","q":4.62,"v":9.233},{"s":"0.05","q":4.76,"v":9.33},{"s":"0.05","q":4.9,"v":9.245},{"s":"0.05","q":5.01,"v":9.28},
      {"s":"0.05","q":5.14,"v":9.233},{"s":"0.05","q":5.25,"v":9.385},{"s":"0.05","q":5.36,"v":9.3},{"s":"0.05","q":5.52,"v":9.3},
      {"s":"0.05","q":5.63,"v":9.38},{"s":"0.05","q":5.85,"v":9.36},{"s":"0.05","q":5.96,"v":9.44},{"s":"0.05","q":6.13,"v":9.612},
      {"s":"0.05","q":6.26,"v":9.52},{"s":"0.05","q":6.37,"v":9.59},{"s":"0.05","q":6.57,"v":9.62},{"s":"0.05","q":6.77,"v":9.653},
      {"s":"0.05","q":6.92,"v":9.61},{"s":"0.05","q":7.03,"v":9.65},{"s":"0.05","q":7.14,"v":9.5},{"s":"0.05","q":7.25,"v":9.56},
      {"s":"0.05","q":7.4,"v":9.49},{"s":"0.05","q":7.54,"v":9.56},{"s":"0.05","q":7.78,"v":9.397},{"s":"0.05","q":8.02,"v":9.49},
      {"s":"0.05","q":8.27,"v":9.44},{"s":"0.05","q":8.41,"v":9.59},{"s":"0.05","q":8.55,"v":9.46},{"s":"0.05","q":8.66,"v":9.46},
      {"s":"0.05","q":8.79,"v":9.51},{"s":"0.05","q":8.9,"v":9.47},{"s":"0.05","q":9.04,"v":9.52},{"s":"0.05","q":9.26,"v":9.56},
      {"s":"0.05","q":9.4,"v":9.48},{"s":"0.05","q":9.65,"v":9.55},{"s":"0.05","q":9.82,"v":9.64},{"s":"0.05","q":9.93,"v":9.64},
      {"s":"0.05","q":10.18,"v":9.49},{"s":"0.05","q":10.31,"v":9.53},{"s":"0.05","q":10.42,"v":9.51},{"s":"0.05","q":10.55,"v":9.58},
      {"s":"0.05","q":10.7,"v":9.42},{"s":"0.05","q":10.84,"v":9.52},{"s":"0.05","q":11.08,"v":9.52},{"s":"0.05","q":11.19,"v":9.4},
      {"s":"0.05","q":11.32,"v":9.5},{"s":"0.05","q":11.58,"v":9.42},{"s":"0.05","q":11.75,"v":9.43},{"s":"0.05","q":11.97,"v":9.52},
      {"s":"0.05","q":12.18,"v":9.46},{"s":"0.05","q":12.45,"v":9.54},{"s":"0.05","q":12.73,"v":9.45},{"s":"0.05","q":12.84,"v":9.5},
      {"s":"0.05","q":12.97,"v":9.42},{"s":"0.05","q":13.1,"v":9.57},{"s":"0.05","q":13.36,"v":9.46},{"s":"0.05","q":13.6,"v":9.51},
      {"s":"0.05","q":13.82,"v":9.51},{"s":"0.05","q":13.98,"v":9.54},{"s":"0.05","q":14.1,"v":9.47},{"s":"0.05","q":14.4,"v":9.5},
      {"s":"0.05","q":14.61,"v":9.513},{"s":"0.05","q":14.88,"v":9.541},{"s":"0.05","q":15.04,"v":9.415},{"s":"0.05","q":15.2,"v":9.518},
      {"s":"0.05","q":15.32,"v":9.548},{"s":"0.05","q":15.47,"v":9.513},{"s":"0.05","q":15.59,"v":9.462},{"s":"0.05","q":15.74,"v":9.478},
      {"s":"0.05","q":15.92,"v":9.63},{"s":"0.05","q":16.02,"v":9.49},{"s":"0.05","q":16.14,"v":9.415},{"s":"0.05","q":16.27,"v":9.485},
      {"s":"0.05","q":16.51,"v":9.495},{"s":"0.05","q":16.67,"v":9.439},{"s":"0.05","q":16.82,"v":9.49},{"s":"0.05","q":16.94,"v":9.478},
      {"s":"0.05","q":17.06,"v":9.583},{"s":"0.05","q":17.19,"v":9.548},{"s":"0.05","q":17.31,"v":9.49},{"s":"0.05","q":17.43,"v":9.518},
      {"s":"0.05","q":17.56,"v":9.467},{"s":"0.05","q":17.68,"v":9.35},{"s":"0.05","q":17.8,"v":9.444},{"s":"0.05","q":17.93,"v":9.408},
      {"s":"0.05","q":18.05,"v":9.6},{"s":"0.05","q":18.23,"v":9.5},{"s":"0.05","q":18.42,"v":9.396},{"s":"0.05","q":18.54,"v":9.541},
      {"s":"0.05","q":18.69,"v":9.541},{"s":"0.05","q":18.85,"v":9.478},{"s":"0.05","q":18.97,"v":9.513},{"s":"0.05","q":19.06,"v":9.449},
      {"s":"0.05","q":19.22,"v":9.564},{"s":"0.05","q":19.34,"v":9.525},{"s":"0.05","q":19.52,"v":9.525},{"s":"0.05","q":19.71,"v":9.49},
      {"s":"0.05","q":19.92,"v":9.6},{"s":"0.05","q":20.08,"v":9.513},{"s":"0.05","q":20.2,"v":9.53},{"s":"0.05","q":20.32,"v":9.471},
      {"s":"0.05","q":20.51,"v":9.525},{"s":"0.05","q":20.69,"v":9.56},{"s":"0.05","q":20.87,"v":9.525},{"s":"0.05","q":21.06,"v":9.564},
      {"s":"0.05","q":21.18,"v":9.42},{"s":"0.05","q":21.37,"v":9.518},{"s":"0.05","q":21.55,"v":9.537},{"s":"0.05","q":21.67,"v":9.471},
      {"s":"0.05","q":21.83,"v":9.56},{"s":"0.05","q":22.04,"v":9.425},{"s":"0.05","q":22.2,"v":9.571},{"s":"0.05","q":22.32,"v":9.541},
      {"s":"0.05","q":22.45,"v":9.564},{"s":"0.05","q":22.57,"v":9.471},{"s":"0.05","q":22.69,"v":9.495},{"s":"0.05","q":22.81,"v":9.642},
      {"s":"0.05","q":22.94,"v":9.462},{"s":"0.05","q":23.08,"v":9.449},{"s":"0.05","q":23.21,"v":9.408},{"s":"0.05","q":23.31,"v":9.618},
      {"s":"0.05","q":23.43,"v":9.467},{"s":"0.05","q":23.58,"v":9.408},{"s":"0.05","q":23.7,"v":9.478},{"s":"0.05","q":23.95,"v":9.537},
      {"s":"0.05","q":24.07,"v":9.408},{"s":"0.05","q":24.2,"v":9.525},{"s":"0.05","q":24.32,"v":9.548},{"s":"0.05","q":24.44,"v":9.513},
      {"s":"0.05","q":24.56,"v":9.541},{"s":"0.05","q":24.71,"v":9.408},{"s":"0.05","q":24.84,"v":9.583},{"s":"0.05","q":24.96,"v":9.462},
      {"s":"0.05","q":25.08,"v":9.478},{"s":"0.05","q":25.21,"v":9.583},{"s":"0.05","q":25.33,"v":9.415},{"s":"0.05","q":25.45,"v":9.53},
      {"s":"0.05","q":25.58,"v":9.509},{"s":"0.05","q":25.7,"v":9.611},{"s":"0.05","q":25.82,"v":9.525},{"s":"0.05","q":25.95,"v":9.471},
      {"s":"0.05","q":26.07,"v":9.509},{"s":"0.05","q":26.23,"v":9.555},{"s":"0.05","q":26.36,"v":9.455},{"s":"0.05","q":26.48,"v":9.485},
      {"s":"0.05","q":26.6,"v":9.618},{"s":"0.05","q":26.73,"v":9.455},{"s":"0.05","q":26.85,"v":9.467},{"s":"0.05","q":26.98,"v":9.537},
      {"s":"0.05","q":27.1,"v":9.439},{"s":"0.05","q":27.22,"v":9.49},{"s":"0.05","q":27.35,"v":9.635},{"s":"0.05","q":27.47,"v":9.5},
      {"s":"0.05","q":27.63,"v":9.5},{"s":"0.05","q":27.76,"v":9.548},{"s":"0.05","q":27.9,"v":9.49},{"s":"0.05","q":28.0,"v":9.485},
      {"s":"0.05","q":28.13,"v":9.401},{"s":"0.05","q":28.25,"v":9.571},{"s":"0.05","q":28.37,"v":9.408},{"s":"0.05","q":28.5,"v":9.495},
      {"s":"0.05","q":28.64,"v":9.518},{"s":"0.05","q":28.77,"v":9.509},{"s":"0.05","q":28.89,"v":9.432},{"s":"0.05","q":28.99,"v":9.513},
      {"s":"0.05","q":29.14,"v":9.432},{"s":"0.05","q":29.26,"v":9.518},{"s":"0.05","q":29.38,"v":9.439},{"s":"0.05","q":29.53,"v":9.518},
      {"s":"0.05","q":29.73,"v":9.564},{"s":"0.05","q":29.87,"v":9.588},{"s":"0.05","q":30.0,"v":9.537},{"s":"0.05","q":30.12,"v":9.401},
      {"s":"0.05","q":30.24,"v":9.537},{"s":"0.05","q":30.37,"v":9.432},{"s":"0.05","q":30.51,"v":9.53},{"s":"0.05","q":30.63,"v":9.455},
      {"s":"0.05","q":30.8,"v":9.525}
    ]
  },
  "encoding": {
    "x": {
      "field": "q",
      "type": "quantitative",
      "scale": {"domain": [-2.03, 32.0], "nice": false, "zero": false},
      "axis": {"values": [0, 5, 10, 15, 20, 25, 30], "title": "Q (Å⁻¹)", "labelPadding": 26, "titlePadding": 38}
    },
    "y": {
      "field": "v",
      "type": "quantitative",
      "scale": {"domain": [0, 10.4], "nice": false, "zero": false},
      "axis": {"values": [0, 2, 4, 6, 8, 10], "title": "S(Q)", "labelPadding": 34, "titlePadding": 12}
    }
  },
  "layer": [
    {
      "data": {"name": "boxes"},
      "mark": {"type": "rect", "filled": false, "stroke": "black", "strokeWidth": 7},
      "encoding": {"x2": {"field": "q2"}, "y2": {"field": "v2"}}
    },
    {
      "data": {"name": "dashTop"},
      "transform": [{"fold": ["a", "b"], "as": ["s", "v"]}],
      "mark": {"type": "line", "color": "black", "strokeWidth": 13.3, "strokeDash": [46, 19], "strokeCap": "butt"},
      "encoding": {"detail": {"field": "s", "type": "nominal"}}
    },
    {
      "data": {"name": "dashLow"},
      "transform": [{"fold": ["c", "e", "f", "g"], "as": ["s", "v"]}],
      "mark": {"type": "line", "color": "black", "strokeWidth": 13.3, "strokeDash": [46, 19], "strokeCap": "butt"},
      "encoding": {"detail": {"field": "s", "type": "nominal"}}
    },
    {
      "data": {"name": "curves"},
      "mark": {"type": "line", "strokeWidth": 12, "strokeJoin": "round", "strokeCap": "square"},
      "encoding": {
        "color": {
          "field": "s",
          "type": "nominal",
          "scale": {
            "domain": ["0.0025", "0.00375", "0.005", "0.01", "0.025", "0.05"],
            "range": ["#0d0887", "#6a00a8", "#b12a90", "#e16462", "#fca636", "#f0f921"]
          },
          "legend": null
        }
      }
    },
    {
      "data": {"name": "labels"},
      "mark": {"type": "text", "align": "left", "baseline": "alphabetic", "fontSize": 85, "font": "DejaVu Sans", "color": "black"},
      "encoding": {"text": {"field": "t"}}
    },
    {
      "data": {"name": "titles"},
      "mark": {"type": "text", "align": "left", "baseline": "alphabetic", "fontSize": 117, "font": "DejaVu Sans", "color": "black"},
      "encoding": {"text": {"field": "t"}}
    }
  ]
}
